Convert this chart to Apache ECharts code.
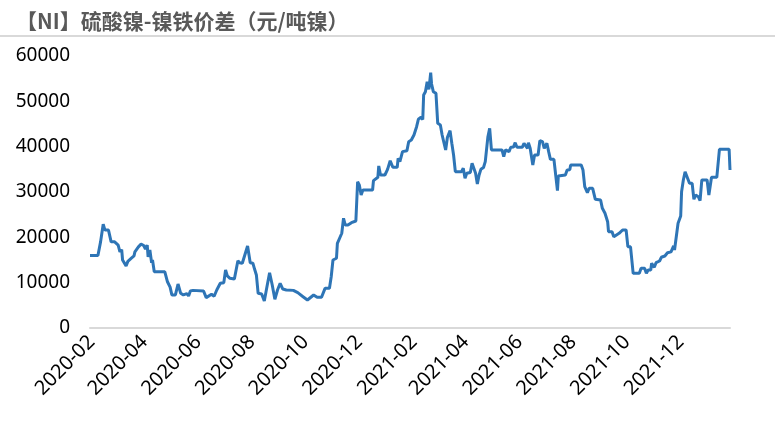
<!DOCTYPE html>
<html><head><meta charset="utf-8">
<script src="https://cdn.jsdelivr.net/npm/echarts@6/dist/echarts.min.js"></script>
<style>html,body{margin:0;padding:0;background:#fff}#c{width:775px;height:430px}</style>
</head><body><div id="c"></div>
<script>
const titleText = '【NI】硫酸镍-镍铁价差（元/吨镍）';
const tickLabels = ['2020-02','2020-04','2020-06','2020-08','2020-10','2020-12','2021-02','2021-04','2021-06','2021-08','2021-10','2021-12'];
const dates = [
'2020-01-30','2020-02-08','2020-02-11','2020-02-14','2020-02-16','2020-02-20','2020-02-23','2020-02-27','2020-02-28','2020-03-02',
'2020-03-04','2020-03-06','2020-03-07','2020-03-09','2020-03-11','2020-03-13','2020-03-17','2020-03-20','2020-03-21','2020-03-25',
'2020-03-28','2020-03-31','2020-04-02','2020-04-04','2020-04-05','2020-04-07','2020-04-09','2020-04-10','2020-04-12','2020-04-24',
'2020-04-27','2020-04-30','2020-05-02','2020-05-06','2020-05-09','2020-05-12','2020-05-15','2020-05-19','2020-05-21','2020-05-23',
'2020-05-26','2020-05-27','2020-06-07','2020-06-10','2020-06-12','2020-06-16','2020-06-19','2020-06-22','2020-06-26','2020-06-30',
'2020-07-02','2020-07-04','2020-07-07','2020-07-12','2020-07-16','2020-07-18','2020-07-21','2020-07-23','2020-07-27','2020-07-30',
'2020-08-02','2020-08-04','2020-08-06','2020-08-08','2020-08-12','2020-08-15','2020-08-18','2020-08-21','2020-08-24','2020-08-27',
'2020-08-30','2020-09-02','2020-09-05','2020-09-09','2020-09-17','2020-09-22','2020-09-24','2020-09-28','2020-10-03','2020-10-10',
'2020-10-14','2020-10-19','2020-10-23','2020-10-28','2020-10-30','2020-11-01','2020-11-05','2020-11-06','2020-11-08','2020-11-11',
'2020-11-13','2020-11-15','2020-11-18','2020-11-22','2020-11-27','2020-11-29','2020-12-01','2020-12-03','2020-12-05','2020-12-16',
'2020-12-17','2020-12-22','2020-12-23','2020-12-25','2020-12-30','2021-01-02','2021-01-05','2021-01-08','2021-01-13','2021-01-14',
'2021-01-16','2021-01-19','2021-01-20','2021-01-24','2021-01-26','2021-01-29','2021-02-01','2021-02-04','2021-02-06','2021-02-09',
'2021-02-11','2021-02-12','2021-02-14','2021-02-16','2021-02-18','2021-02-20','2021-02-21','2021-02-23','2021-02-26','2021-02-28',
'2021-03-03','2021-03-05','2021-03-07','2021-03-09','2021-03-11','2021-03-14','2021-03-16','2021-03-18','2021-03-20','2021-03-27',
'2021-03-29','2021-03-31','2021-04-02','2021-04-06','2021-04-08','2021-04-10','2021-04-12','2021-04-14','2021-04-16','2021-04-18',
'2021-04-21','2021-04-23','2021-04-26','2021-04-28','2021-04-30','2021-05-12','2021-05-14','2021-05-16','2021-05-20','2021-05-22',
'2021-05-25','2021-05-27','2021-05-29','2021-06-04','2021-06-06','2021-06-08','2021-06-10','2021-06-11','2021-06-13','2021-06-16',
'2021-06-18','2021-06-22','2021-06-24','2021-06-27','2021-06-29','2021-07-02','2021-07-04','2021-07-06','2021-07-10','2021-07-12',
'2021-07-14','2021-07-15','2021-07-23','2021-07-25','2021-07-28','2021-07-29','2021-08-10','2021-08-12','2021-08-14','2021-08-17',
'2021-08-19','2021-08-23','2021-08-26','2021-09-01','2021-09-03','2021-09-06','2021-09-09','2021-09-10','2021-09-14','2021-09-16',
'2021-09-22','2021-09-26','2021-09-30','2021-10-02','2021-10-05','2021-10-08','2021-10-15','2021-10-17','2021-10-21','2021-10-23',
'2021-10-25','2021-10-28','2021-10-29','2021-11-01','2021-11-03','2021-11-07','2021-11-09','2021-11-13','2021-11-16','2021-11-20',
'2021-11-23','2021-11-24','2021-11-26','2021-11-28','2021-12-01','2021-12-02','2021-12-04','2021-12-06','2021-12-08','2021-12-11',
'2021-12-14','2021-12-16','2021-12-18','2021-12-21','2021-12-23','2021-12-25','2021-12-31','2022-01-02','2022-01-05','2022-01-11',
'2022-01-14','2022-01-25','2022-01-26'
];
const spread = [
16000,16000,19000,22900,21600,21600,19000,19000,19300,18300,
16800,17300,15000,15000,13700,14700,15400,15900,16800,17900,
18500,18200,17400,18300,15700,17200,14400,15000,12400,12400,
10200,9000,7300,7300,9700,7650,7300,7600,7060,8160,
8300,8500,8160,6700,6700,7430,7000,8380,9860,10000,
12800,11500,10960,10800,14850,14400,14270,14000,18100,14400,
14300,12950,11700,7650,7500,5960,9100,12200,9480,6330,
8380,9860,8600,8380,8300,7800,7800,6900,6180,7280,
6770,6770,8750,8750,11300,15000,15380,18680,19000,20900,
24200,22700,22700,23230,23600,32270,31500,29340,30440,30440,
32500,33240,35740,33750,33750,35000,36900,35450,35450,37430,
36700,38900,39100,39100,41100,41470,42580,44400,46040,46480,
46000,51400,52130,54330,52650,56320,53830,52130,51770,45150,
44780,42580,42700,39270,42060,43530,40750,38160,34480,34480,
35230,33020,34130,34300,36330,36330,34130,31770,33750,35000,
35400,36700,42200,44050,39270,39270,37800,39270,38900,39860,
39900,40880,39860,39860,40750,40600,39640,40880,39640,35960,
38160,38160,41320,41100,39640,40750,38900,37210,37210,33750,
30290,33530,33750,34860,34900,35960,35960,34860,31170,29850,
30820,30820,28390,28240,26400,25300,23450,21240,21240,20140,
20880,21620,21620,17930,17900,12060,12060,13170,13170,12060,
12800,12800,14270,13390,14400,14780,15600,15880,16610,16800,
18090,17200,17400,23100,24700,30070,32650,34480,34130,31920,
31920,28390,29340,28970,28090,32650,32650,29340,33240,33240,
39420,39420,34860
];

function toTs(s){const p=s.split('-').map(Number);return new Date(p[0],p[1]-1,p[2]||1).getTime();}
function fmtMonth(v){const d=new Date(v);const m=d.getMonth()+1;return d.getFullYear()+'-'+(m<10?'0':'')+m;}

const chart = echarts.init(document.getElementById('c'), null, {renderer:'canvas'});
chart.setOption({
  animation:false,
  title:{text:titleText,left:11,top:6,textStyle:{fontSize:21,fontWeight:'bold',color:'#595959',fontFamily:'"Noto Sans CJK SC", sans-serif'}},
  graphic:[{type:'rect',shape:{x:0,y:35,width:775,height:2},style:{fill:'#d9d9d9'},silent:true}],
  grid:{left:90,right:45,top:56,bottom:102,containLabel:false},
  xAxis:{
    type:'value',
    min:toTs(dates[0]),max:toTs(dates[dates.length-1]),
    axisLine:{show:true,lineStyle:{color:'#d9d9d9',width:2}},
    axisTick:{show:false},
    splitLine:{show:false},
    axisLabel:{
      customValues:tickLabels.map(toTs),
      rotate:45,margin:11,fontSize:20,color:'#000',fontFamily:'"Noto Sans", sans-serif',
      formatter:fmtMonth
    }
  },
  yAxis:{
    type:'value',min:0,max:60000,interval:10000,
    axisLine:{show:false},axisTick:{show:false},splitLine:{show:false},
    axisLabel:{margin:20,fontSize:19,color:'#000',fontFamily:'"Noto Sans", sans-serif',formatter:function(v){return String(v);}}
  },
  series:[{type:'line',data:dates.map((d,i)=>[toTs(d),spread[i]]),symbol:'none',
    lineStyle:{width:3,color:'#2E75B6'},itemStyle:{color:'#2E75B6'}}]
});
</script></body></html>
